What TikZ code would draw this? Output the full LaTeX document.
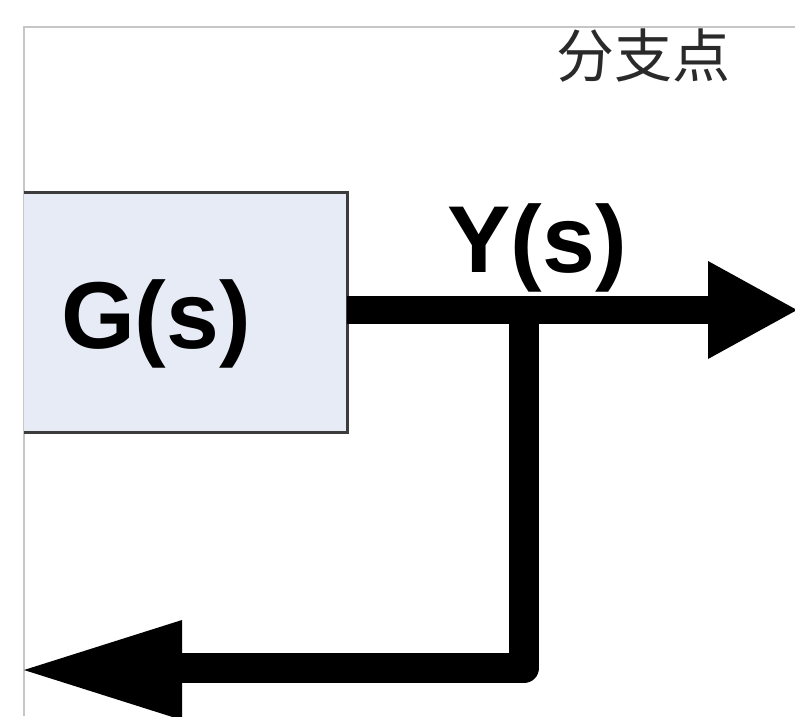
\documentclass[tikz,border=0pt]{standalone}
\usepackage{fontspec}
\setmainfont{Liberation Sans}
\newfontfamily\cjkfont{Noto Sans CJK SC}
\definecolor{framegray}{HTML}{C6C6C6}
\definecolor{boxfill}{HTML}{E6EBF6}
\definecolor{boxline}{HTML}{3C3C3C}
\definecolor{cjktext}{HTML}{2A2A2A}
\tikzset{
  frameline/.style={draw=framegray, line width=2pt},
  boxedge/.style={draw=boxline, line width=3pt},
  signal/.style={draw=black, line width=28pt},
  branchline/.style={draw=black, line width=30pt, line join=round},
  headfill/.style={fill=black},
  biglabel/.style={font=\fontsize{95}{95}\selectfont\bfseries, inner sep=0pt, anchor=base},
}
\begin{document}
\begin{tikzpicture}[x=1pt,y=-1pt]
\useasboundingbox (0,0) rectangle (795,716);
\clip (0,0) rectangle (795,716);
\fill[white] (0,0) rectangle (795,716);
% frame
\coordinate (ftl) at (24,27);
\coordinate (ftr) at (795,27);
\coordinate (fbl) at (24,716);
\draw[frameline] (ftr) -- (ftl) -- (fbl);
% block
\node[fill=boxfill, inner sep=0pt, minimum width=323pt, minimum height=240pt, anchor=north west] (gbox) at (24,192) {};
\draw[boxedge] (gbox.north west) -- (gbox.north east) -- (gbox.south east) -- (gbox.south west);
\node[biglabel] (gtext) at (156,348) {G(s)};
% signal
\coordinate (jct) at (524,310);
\coordinate (rbase) at (708,310);
\coordinate (rtip) at (797,310);
\draw[signal] (gbox.east |- jct) -- (rbase);
\fill[headfill] (708,261) -- (rtip) -- (708,359) -- cycle;
\node[biglabel] (ylabel) at (537,272) {Y(s)};
% feedback branch
\coordinate (lbase) at (182,668);
\coordinate (ltip) at (24,670);
\draw[branchline] (jct) |- (lbase);
\fill[headfill] (182,620) -- (ltip) -- (182,720) -- cycle;
% label
\node[font=\cjkfont\fontsize{58}{58}\selectfont, text=cjktext, inner sep=0pt] (branch) at (643,56) {分支点};
\end{tikzpicture}
\end{document}
